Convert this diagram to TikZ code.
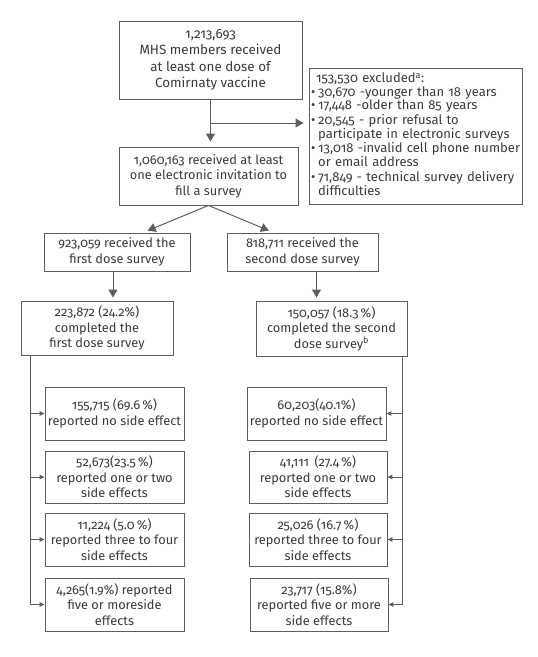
\documentclass[tikz,border=0pt]{standalone}
\usepackage{fontspec}
\setmainfont{Fira Sans}[Numbers=OldStyle]
\usetikzlibrary{arrows.meta,calc}
\definecolor{txt}{HTML}{3A3A3A}
\definecolor{ln}{HTML}{5E5E5E}
\begin{document}
\begin{tikzpicture}[x=1pt,y=-1pt,
  box/.style={draw=ln, line width=0.9pt, text=txt, align=center, inner sep=0pt,
    font=\fontsize{12.8}{15.5}\selectfont},
  arr/.style={draw=ln, line width=1pt, -{Triangle[length=8pt,width=9pt]}, shorten >=5pt},
  sarr/.style={draw=ln, line width=1pt, -{Triangle[length=5pt,width=4.5pt]}},
  conn/.style={draw=ln, line width=1pt}]
\useasboundingbox (0,0) rectangle (538,657);

\node[box, minimum width=183pt, minimum height=78pt, font=\fontsize{13.4}{16.5}\selectfont] (top) at (210.5,60)
  {1,213,693\\MHS members received\\at least one dose of\\Comirnaty vaccine};

\node[box, minimum width=213pt, minimum height=136pt, text width=209pt, align=left, inner xsep=0pt,
  font=\fontsize{13}{13.6}\selectfont] (ex) at (415.5,136)
  {\begin{tabular}{@{}l@{\hspace{3pt}}l@{}}
   \multicolumn{2}{@{\hspace{5pt}}l@{}}{153,530 excluded\textsuperscript{a}:}\\
   \textbullet & 30,670 -younger than 18 years\\
   \textbullet & 17,448 -older than 85 years\\
   \textbullet & 20,545 - prior refusal to\\
               & participate in electronic surveys\\
   \textbullet & 13,018 -invalid cell phone number\\
               & or email address\\
   \textbullet & 71,849 - technical survey delivery\\
               & difficulties
   \end{tabular}};

\node[box, minimum width=179pt, minimum height=58pt] (mid) at (208.5,176)
  {1,060,163 received at least\\one electronic invitation to\\fill a survey};

\node[box, minimum width=146pt, minimum height=38pt] (f1) at (117,252)
  {923,059 received the\\first dose survey};
\node[box, minimum width=151pt, minimum height=38pt] (s1) at (302.5,252)
  {818,711 received the\\second dose survey};

\node[box, minimum width=152pt, minimum height=54pt] (c1) at (97,328)
  {223,872 (24.2\%)\\completed the\\first dose survey};
\node[box, minimum width=151pt, minimum height=55pt] (c2) at (331.5,328.5)
  {150,057 (18.3\,\%)\\completed the second\\dose survey\textsuperscript{b}};

\node[box, minimum width=139pt, minimum height=53pt] (L1) at (114.5,413.5)
  {155,715 (69.6\,\%)\\reported no side effect};
\node[box, minimum width=139pt, minimum height=52pt] (L2) at (114.5,477)
  {52,673(23.5\,\%)\\reported one or two\\side effects};
\node[box, minimum width=139pt, minimum height=53pt] (L3) at (114.5,539.5)
  {11,224 (5.0\,\%)\\reported three to four\\side effects};
\node[box, minimum width=139pt, minimum height=53pt] (L4) at (114.5,604.5)
  {4,265(1.9\%) reported\\five or moreside\\effects};

\node[box, minimum width=139pt, minimum height=53pt] (R1) at (316.5,413.5)
  {60,203(40.1\%)\\reported no side effect};
\node[box, minimum width=138pt, minimum height=52pt] (R2) at (318,477)
  {41,111 \,(27.4\,\%)\\reported one or two\\side effects};
\node[box, minimum width=138pt, minimum height=53pt] (R3) at (318,539.5)
  {25,026 (16.7\,\%)\\reported three to four\\side effects};
\node[box, minimum width=138pt, minimum height=53pt] (R4) at (319,604.5)
  {23,717 (15.8\%)\\reported five or more\\side effects};

% top connectors
\draw[arr] (top.south) -- (top.south |- mid.north);
\coordinate (br) at ($(top.south)!0.5!(top.south |- mid.north)$);
\draw[arr] (br) -- (br -| ex.west);

\draw[arr] (mid.south) -- ([xshift=26pt]f1.north);
\draw[arr] (mid.south) -- ([xshift=-29pt]s1.north);

\coordinate (fd) at ([xshift=-4pt]f1.south);
\draw[arr, shorten >=3pt] (fd) -- (fd |- c1.north);
\coordinate (sd) at ([xshift=14pt]s1.south);
\draw[arr, shorten >=3pt] (sd) -- (sd |- c2.north);

% left branches
\coordinate (lt) at ([xshift=10pt]c1.south west);
\draw[sarr] (lt) |- (L4.west);
\draw[sarr] (lt |- L1.west) -- (L1.west);
\draw[sarr] (lt |- L2.west) -- (L2.west);
\draw[sarr] (lt |- L3.west) -- (L3.west);

% right branches
\coordinate (rt) at ([xshift=-5pt]c2.south east);
\draw[sarr] (rt) |- (R4.east);
\draw[sarr] (rt |- R1.east) -- (R1.east);
\draw[sarr] (rt |- R2.east) -- (R2.east);
\draw[sarr] (rt |- R3.east) -- (R3.east);
\end{tikzpicture}
\end{document}
